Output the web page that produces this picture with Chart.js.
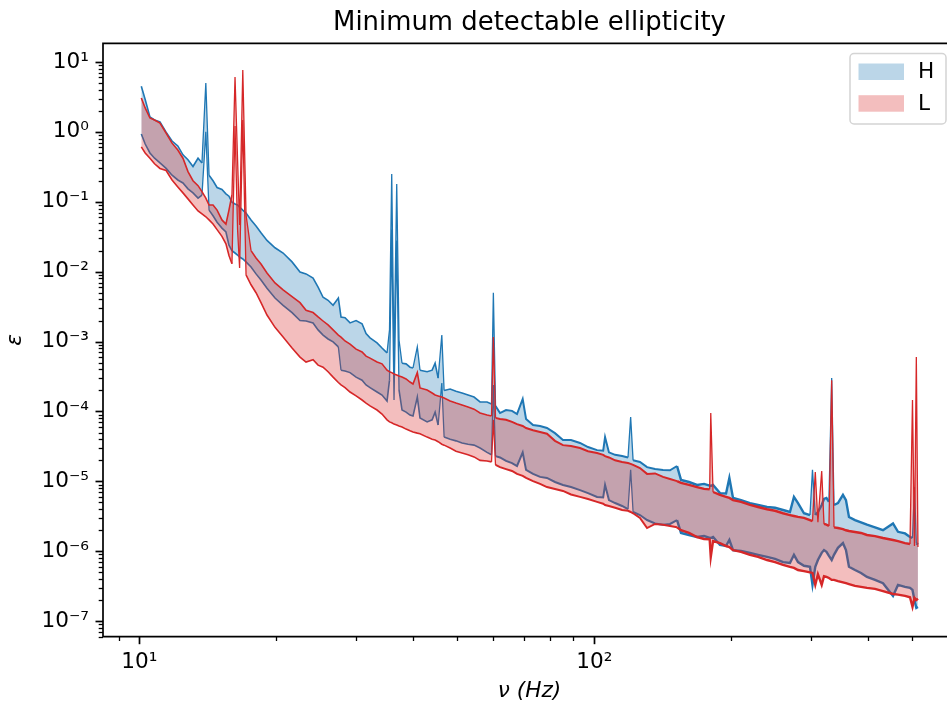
<!DOCTYPE html>
<html>
<head>
<meta charset="utf-8">
<script src="https://cdn.jsdelivr.net/npm/chart.js@4.4.1/dist/chart.umd.min.js"></script>
<style>
html,body{margin:0;padding:0;background:#fff;overflow:hidden}
canvas{display:block}
</style>
</head>
<body>
<canvas id="c" width="947" height="706"></canvas>
<script>
// ---- data (frequency in Hz, minimum detectable ellipticity) ----
const freq = [10.1, 10.3, 10.55, 10.8, 11.1, 11.45, 11.8, 12.15, 12.47, 12.79,
 13.12, 13.46, 13.73, 14.0, 14.23, 14.52, 14.82, 15.19, 15.5, 15.74,
 15.98, 16.23, 16.44, 16.61, 16.88, 17.16, 17.6, 18.05, 18.51, 19.08,
 19.87, 20.7, 21.66, 22.55, 23.25, 24.09, 24.71, 25.34, 25.99, 26.66,
 27.38, 27.75, 28.32, 29.05, 29.95, 30.87, 31.5, 32.14, 33.3, 34.15,
 35.03, 35.47, 35.87, 36.29, 36.79, 37.22, 37.79, 38.57, 39.35, 39.95,
 40.83, 41.39, 42.91, 44.01, 44.68, 45.37, 46.22, 46.76, 48.21, 49.66,
 51.2, 52.78, 54.41, 56.09, 58.11, 59.44, 60.0, 60.66, 62.05, 63.97,
 65.94, 67.63, 69.6, 70.79, 73.34, 75.99, 78.7, 81.95, 85.34, 88.87,
 93.02, 96.87, 101.4, 104.6, 105.6, 107.7, 111.1, 115.1, 118.6, 120.2, 121.7,
 126.0, 130.6, 136.0, 141.6, 146.7, 152.0, 155.1, 161.5, 168.2, 174.3, 179.3,
 180.3, 182.4, 188.9, 194.8, 198.1, 201.8, 210.2, 219.9, 229.0, 239.7,
 249.6, 259.9, 269.2, 274.7, 280.4, 289.0, 297.9, 301.7, 306.0, 310.1,
 316.1, 319.8, 323.8, 327.9, 332.5, 336.4, 343.2, 352.0, 357.4, 362.9,
 374.1, 385.7, 397.5, 414.0, 431.1, 453.5, 465.1, 481.9, 494.2, 500.5,
 505.5, 510.3, 514.5];

const hUpper = [4.5, 2.9, 1.63, 1.48, 1.39, 0.99, 0.74, 0.63, 0.47, 0.40,
 0.32, 0.42, 0.36, 5.0, 0.24, 0.20, 0.16, 0.15, 0.13, 0.12,
 0.099, 0.093, 0.090, 0.084, 0.076, 0.069, 0.055, 0.045, 0.036, 0.028,
 0.022, 0.0185, 0.0138, 0.0099, 0.0093, 0.0081, 0.0060, 0.0043, 0.0039, 0.0033,
 0.0042, 0.00225, 0.0022, 0.00185, 0.0020, 0.0018, 0.0013, 0.00113, 0.00096, 0.00081,
 0.00069, 0.00147, 0.25, 0.00051, 0.18, 0.00105, 0.00049, 0.00048, 0.00043, 0.00042,
 0.00084, 0.00039, 0.00037, 0.00039, 0.00049, 0.00030, 0.00124, 0.00020, 0.00021, 1.95e-4,
 1.84e-4, 1.72e-4, 1.61e-4, 1.37e-4, 1.37e-4, 1.28e-4, 5.0e-3, 1.2e-4, 9.5e-5, 1.05e-4,
 1.02e-4, 9.2e-5, 1.51e-4, 7.8e-5, 6.4e-5, 6.2e-5, 5.8e-5, 4.9e-5, 3.9e-5, 3.9e-5,
 3.55e-5, 3.1e-5, 2.8e-5, 2.75e-5, 4.3e-5, 2.6e-5, 2.4e-5, 2.3e-5, 2.2e-5, 8.3e-5, 2.0e-5,
 1.9e-5, 1.6e-5, 1.5e-5, 1.46e-5, 1.44e-5, 1.66e-5, 1.05e-5, 9.8e-6, 8.9e-6, 9.2e-6, 8.7e-6,
 8.6e-6, 8.9e-6, 6.8e-6, 6.7e-6, 1.12e-5, 5.8e-6, 5.4e-6, 4.9e-6, 4.6e-6, 4.3e-6,
 4.2e-6, 3.9e-6, 3.65e-6, 6.0e-6, 4.9e-6, 3.5e-6, 3.3e-6, 1.46e-5, 3.3e-6, 3.65e-6,
 4.6e-6, 5.6e-6, 5.8e-6, 5.1e-6, 3.0e-4, 4.6e-6, 4.9e-6, 6.4e-6, 5.4e-6, 3.1e-6,
 2.8e-6, 2.6e-6, 2.4e-6, 2.2e-6, 2.0e-6, 2.5e-6, 1.9e-6, 1.8e-6, 1.6e-6, 1.55e-6,
 8.3e-6, 1.3e-6, 1.25e-6];

const hLower = [0.93, 0.67, 0.50, 0.42, 0.36, 0.30, 0.24, 0.205, 0.186, 0.153,
 0.134, 0.113, 0.125, 1.0, 0.076, 0.063, 0.051, 0.042, 0.037, 0.024,
 0.020, 0.0185, 0.0173, 0.0162, 0.0152, 0.0138, 0.0117, 0.0093, 0.0076, 0.0058,
 0.0042, 0.0033, 0.0026, 0.0020, 0.00197, 0.00185, 0.00147, 0.00124, 0.00109, 0.00099,
 0.00084, 0.00039, 0.00038, 0.00036, 0.00031, 0.00028, 0.00024, 0.00022, 0.00019, 1.72e-4,
 1.41e-4, 2.8e-4, 0.040, 1.46e-4, 0.028, 2.03e-4, 1.05e-4, 9.8e-5, 8.9e-5, 8.6e-5,
 1.61e-4, 8.1e-5, 7.1e-5, 7.6e-5, 9.8e-5, 6.4e-5, 2.56e-4, 4.3e-5, 4.0e-5, 3.8e-5,
 3.55e-5, 3.4e-5, 3.3e-5, 3.0e-5, 2.6e-5, 2.4e-5, 2.4e-4, 2.3e-5, 2.2e-5, 1.96e-5,
 1.83e-5, 1.66e-5, 2.6e-5, 1.46e-5, 1.28e-5, 1.16e-5, 1.12e-5, 9.8e-6, 8.9e-6, 8.3e-6,
 7.5e-6, 6.8e-6, 6.0e-6, 5.9e-6, 8.9e-6, 5.4e-6, 4.9e-6, 4.45e-6, 4.0e-6, 1.46e-5, 3.65e-6,
 3.3e-6, 2.8e-6, 2.5e-6, 2.4e-6, 2.46e-6, 2.8e-6, 1.83e-6, 1.71e-6, 1.6e-6, 1.65e-6, 1.56e-6,
 1.55e-6, 1.6e-6, 1.23e-6, 1.19e-6, 1.45e-6, 1.04e-6, 1.01e-6, 9.5e-7, 8.9e-7, 8.3e-7,
 7.8e-7, 7.0e-7, 6.8e-7, 8.9e-7, 7.0e-7, 6.2e-7, 6.0e-7, 3.3e-7, 6.0e-7, 7.5e-7,
 9.5e-7, 1.04e-6, 9.8e-7, 8.6e-7, 7.5e-7, 8.9e-7, 1.12e-6, 1.31e-6, 1.04e-6, 6.0e-7,
 5.4e-7, 4.9e-7, 4.3e-7, 3.9e-7, 3.5e-7, 2.3e-7, 3.3e-7, 3.1e-7, 3.0e-7, 2.8e-7,
 2.0e-7, 1.55e-7, 1.6e-7];

const lUpper = [3.05, 2.2, 1.58, 1.48, 1.34, 0.96, 0.69, 0.55, 0.42, 0.27,
 0.20, 0.17, 0.14, 0.113, 0.090, 0.090, 0.076, 0.055, 0.048, 0.076,
 0.125, 6.1, 0.40, 0.0465, 7.7, 0.065, 0.020, 0.0157, 0.0129, 0.0096,
 0.0069, 0.0055, 0.0044, 0.0036, 0.0028, 0.0026, 0.00225, 0.00197, 0.00173, 0.00147,
 0.00124, 0.00116, 0.00102, 0.00092, 0.00078, 0.00071, 0.00062, 0.00058, 0.00051, 0.00048,
 0.00039, 0.00037, 0.00036, 3.44e-4, 3.33e-4, 3.22e-4, 3.11e-4, 2.92e-4, 2.64e-4, 2.47e-4,
 3.6e-4, 2.17e-4, 2.03e-4, 1.84e-4, 1.72e-4, 1.67e-4, 1.61e-4, 1.56e-4, 1.41e-4, 1.32e-4,
 1.24e-4, 1.16e-4, 1.08e-4, 9.5e-5, 8.9e-5, 8.6e-5, 1.16e-3, 8.1e-5, 7.8e-5, 7.6e-5,
 7.1e-5, 6.6e-5, 6.2e-5, 5.8e-5, 5.4e-5, 5.1e-5, 4.8e-5, 3.8e-5, 3.3e-5, 3.2e-5,
 3.0e-5, 2.7e-5, 2.55e-5, 2.4e-5, 2.3e-5, 2.2e-5, 2.0e-5, 1.9e-5, 1.83e-5, 1.78e-5, 1.72e-5,
 1.55e-5, 1.28e-5, 1.3e-5, 1.16e-5, 1.08e-5, 1.01e-5, 9.5e-6, 8.9e-6, 8.3e-6, 7.8e-6, 7.7e-6,
 9.5e-5, 7.05e-6, 6.4e-6, 6.0e-6, 5.8e-6, 5.4e-6, 5.1e-6, 4.6e-6, 4.3e-6, 4.0e-6,
 3.8e-6, 3.5e-6, 3.3e-6, 3.2e-6, 3.1e-6, 3.0e-6, 2.8e-6, 2.7e-6, 1.36e-5, 2.6e-6,
 1.41e-5, 2.46e-6, 2.4e-6, 2.3e-6, 2.8e-4, 2.2e-6, 2.15e-6, 2.08e-6, 2.0e-6, 1.95e-6,
 1.89e-6, 1.83e-6, 1.71e-6, 1.65e-6, 1.55e-6, 1.45e-6, 1.4e-6, 1.31e-6, 1.27e-6, 1.46e-4,
 1.19e-6, 6.0e-4, 1.15e-6];

const lLower = [0.61, 0.50, 0.42, 0.35, 0.30, 0.28, 0.205, 0.163, 0.134, 0.11,
 0.090, 0.074, 0.067, 0.061, 0.055, 0.048, 0.040, 0.032, 0.025, 0.017,
 0.013, 1.21, 0.040, 0.0113, 1.48, 0.009, 0.0065, 0.005, 0.0036, 0.0024,
 0.0016, 0.00116, 0.00081, 0.00060, 0.00051, 0.00055, 0.00046, 0.00043, 0.00037, 0.00031,
 0.00026, 0.00024, 0.00022, 0.00019, 1.67e-4, 1.46e-4, 1.32e-4, 1.2e-4, 1.05e-4, 9.2e-5,
 7.6e-5, 7.1e-5, 6.9e-5, 6.6e-5, 6.4e-5, 6.2e-5, 6.0e-5, 5.6e-5, 5.3e-5, 5.1e-5,
 4.9e-5, 4.8e-5, 4.3e-5, 4.0e-5, 3.9e-5, 3.7e-5, 3.4e-5, 3.3e-5, 3.0e-5, 2.7e-5,
 2.55e-5, 2.4e-5, 2.24e-5, 2.0e-5, 1.96e-5, 1.9e-5, 7.6e-5, 1.72e-5, 1.6e-5, 1.5e-5,
 1.41e-5, 1.28e-5, 1.2e-5, 1.12e-5, 1.01e-5, 9.2e-6, 8.3e-6, 7.8e-6, 7.3e-6, 6.5e-6,
 6.0e-6, 5.6e-6, 5.1e-6, 4.8e-6, 4.6e-6, 4.45e-6, 4.2e-6, 3.9e-6, 3.8e-6, 3.65e-6, 3.5e-6,
 3.0e-6, 2.15e-6, 2.46e-6, 2.4e-6, 2.3e-6, 2.2e-6, 2.0e-6, 1.83e-6, 1.6e-6, 1.5e-6, 1.48e-6,
 8.3e-7, 1.4e-6, 1.31e-6, 1.19e-6, 1.15e-6, 1.04e-6, 9.8e-7, 8.9e-7, 8.3e-7, 7.5e-7,
 7.0e-7, 6.4e-7, 6.0e-7, 5.8e-7, 5.4e-7, 5.2e-7, 5.0e-7, 4.9e-7, 3.3e-7, 4.7e-7,
 3.3e-7, 4.4e-7, 4.3e-7, 4.15e-7, 3.9e-7, 3.9e-7, 3.75e-7, 3.6e-7, 3.5e-7, 3.4e-7,
 3.2e-7, 3.1e-7, 3.0e-7, 2.9e-7, 2.7e-7, 2.45e-7, 2.4e-7, 2.3e-7, 2.2e-7, 1.6e-7,
 2.15e-7, 2.0e-7, 2.1e-7];

const seriesNames = ['H', 'L'];
const xTickValues = [10, 100];
const xTickLabels = ['10\u00B9', '10\u00B2'];
const yTickValues = [1e-7, 1e-6, 1e-5, 1e-4, 1e-3, 1e-2, 1e-1, 1, 10];
const yTickLabels = ['10\u207B\u2077', '10\u207B\u2076', '10\u207B\u2075', '10\u207B\u2074',
  '10\u207B\u00B3', '10\u207B\u00B2', '10\u207B\u00B9', '10\u2070', '10\u00B9'];
const xRange = [8.32, 596];
const yRange = [6.0e-8, 18.5];
const titleText = 'Minimum detectable ellipticity';
const xTitle = '\u03BD (Hz)';
const yTitle = '\u03B5';

// ---- styling ----
const BLUE = '#1f77b4', RED = '#d62728';
const BLUE_FILL = 'rgba(31,119,180,0.3)', RED_FILL = 'rgba(214,39,40,0.3)';
const FONT = 'DejaVu Sans';
const FS = 21.6;            // 10 pt
const TITLE_FS = 25.9;      // 12 pt
const VIRTUAL_RIGHT = 956;  // matplotlib axes extend slightly past the picture edge

const pts = arr => freq.map((f, i) => ({ x: f, y: arr[i] }));
// noisy spectra look heavier at high frequency; narrow spectral lines stay thin
const segWidth = c => {
  const jump = Math.abs(Math.log10(c.p1.parsed.y / c.p0.parsed.y));
  if (jump > 0.3) return 1.3;
  const f = c.p0.parsed.x;
  return f >= 150 ? 2.4 : (f >= 60 ? 2.0 : 1.6);
};
const lineDs = (label, arr, color) => ({
  label, data: pts(arr), borderColor: color, backgroundColor: 'transparent',
  borderWidth: 1.6, pointRadius: 0, pointHoverRadius: 0, tension: 0, fill: false,
  segment: { borderWidth: segWidth }
});
// fill-only datasets (no segment styling, so the band is one seamless polygon)
const bandDs = (label, arr, fill, bg) => ({
  label, data: pts(arr), borderColor: 'transparent', backgroundColor: bg || 'transparent',
  borderWidth: 1, pointRadius: 0, pointHoverRadius: 0, tension: 0, fill: fill
});

const decor = {
  id: 'decor',
  afterDatasetsDraw(chart) {
    const { ctx, chartArea: a, scales: { x, y } } = chart;
    ctx.save();
    ctx.strokeStyle = '#000';
    for (let e = -9; e <= 3; e++) {
      for (let m = 1; m <= 9; m++) {
        const v = m * Math.pow(10, e);
        const major = m === 1;
        ctx.lineWidth = major ? 1.7 : 1.3;
        const len = major ? 7.5 : 4.3;
        if (v >= y.min && v <= y.max) {
          const py = Math.round(y.getPixelForValue(v)) + 0.5;
          ctx.beginPath(); ctx.moveTo(a.left - len, py); ctx.lineTo(a.left, py); ctx.stroke();
        }
        if (v >= x.min && v <= x.max) {
          const px = Math.round(x.getPixelForValue(v)) + 0.5;
          ctx.beginPath(); ctx.moveTo(px, a.bottom); ctx.lineTo(px, a.bottom + len); ctx.stroke();
        }
      }
    }
    ctx.lineWidth = 1.7;
    ctx.beginPath();
    ctx.moveTo(a.right + 2, a.top); ctx.lineTo(a.left, a.top);
    ctx.lineTo(a.left, a.bottom); ctx.lineTo(a.right + 2, a.bottom);
    ctx.stroke();

    const cx = (a.left + VIRTUAL_RIGHT) / 2;
    ctx.fillStyle = '#000';
    ctx.font = TITLE_FS + 'px "' + FONT + '"';
    ctx.textAlign = 'center'; ctx.textBaseline = 'alphabetic';
    ctx.fillText(titleText, cx, 29.5);
    ctx.font = 'italic ' + FS + 'px "' + FONT + '"';
    ctx.fillText(xTitle, cx, 697);
    ctx.save();
    ctx.translate(21, (a.top + a.bottom) / 2);
    ctx.rotate(-Math.PI / 2);
    ctx.fillText(yTitle, 0, 0);
    ctx.restore();

    const lx = 850, ly = 53.5, lw = 96, lh = 70.5, r = 4;
    ctx.beginPath();
    ctx.moveTo(lx + r, ly); ctx.lineTo(lx + lw - r, ly); ctx.arcTo(lx + lw, ly, lx + lw, ly + r, r);
    ctx.lineTo(lx + lw, ly + lh - r); ctx.arcTo(lx + lw, ly + lh, lx + lw - r, ly + lh, r);
    ctx.lineTo(lx + r, ly + lh); ctx.arcTo(lx, ly + lh, lx, ly + lh - r, r);
    ctx.lineTo(lx, ly + r); ctx.arcTo(lx, ly, lx + r, ly, r);
    ctx.closePath();
    ctx.fillStyle = 'rgba(255,255,255,0.8)'; ctx.fill();
    ctx.strokeStyle = '#d4d4d4'; ctx.lineWidth = 1.5; ctx.stroke();
    const fills = [BLUE_FILL, RED_FILL];
    const rows = [63.5, 95.2];
    ctx.font = FS + 'px "' + FONT + '"';
    ctx.textAlign = 'left'; ctx.textBaseline = 'middle';
    seriesNames.forEach((name, i) => {
      ctx.fillStyle = fills[i];
      ctx.fillRect(858.5, rows[i], 45.5, 16.5);
      ctx.fillStyle = '#000';
      ctx.fillText(name, 918, rows[i] + 9);
    });
    ctx.restore();
  }
};

Chart.defaults.font.family = FONT;
new Chart(document.getElementById('c'), {
  type: 'line',
  data: {
    // drawn last-to-first: H band, H traces, L band, L traces
    datasets: [
      lineDs('L upper', lUpper, RED),
      lineDs('L lower', lLower, RED),
      bandDs('L band top', lUpper, false),
      bandDs(seriesNames[1], lLower, '-1', RED_FILL),
      lineDs('H upper', hUpper, BLUE),
      lineDs('H lower', hLower, BLUE),
      bandDs('H band top', hUpper, false),
      bandDs(seriesNames[0], hLower, '-1', BLUE_FILL)
    ]
  },
  options: {
    responsive: false,
    animation: false,
    devicePixelRatio: 1,
    layout: { padding: { top: 43.3, left: 0, right: 0, bottom: 0 } },
    plugins: { legend: { display: false }, title: { display: false }, tooltip: { enabled: false } },
    scales: {
      x: {
        type: 'logarithmic', min: xRange[0], max: xRange[1], bounds: 'data',
        afterBuildTicks: s => { s.ticks = xTickValues.map(v => ({ value: v })); },
        afterFit: s => { s.height = 69.3; },
        ticks: {
          autoSkip: false, maxRotation: 0, padding: 13, color: '#000',
          font: { family: FONT, size: FS },
          callback: v => { const i = xTickValues.indexOf(v); return i >= 0 ? xTickLabels[i] : ''; }
        },
        grid: { display: false, drawTicks: false },
        border: { display: false }
      },
      y: {
        type: 'logarithmic', min: yRange[0], max: yRange[1], bounds: 'data',
        afterBuildTicks: s => { s.ticks = yTickValues.map(v => ({ value: v })); },
        afterFit: s => { s.width = 103; },
        ticks: {
          autoSkip: false, padding: 14, color: '#000',
          font: { family: FONT, size: FS },
          callback: v => { const i = yTickValues.indexOf(v); return i >= 0 ? yTickLabels[i] : ''; }
        },
        grid: { display: false, drawTicks: false },
        border: { display: false }
      }
    }
  },
  plugins: [decor]
});
</script>
</body>
</html>
